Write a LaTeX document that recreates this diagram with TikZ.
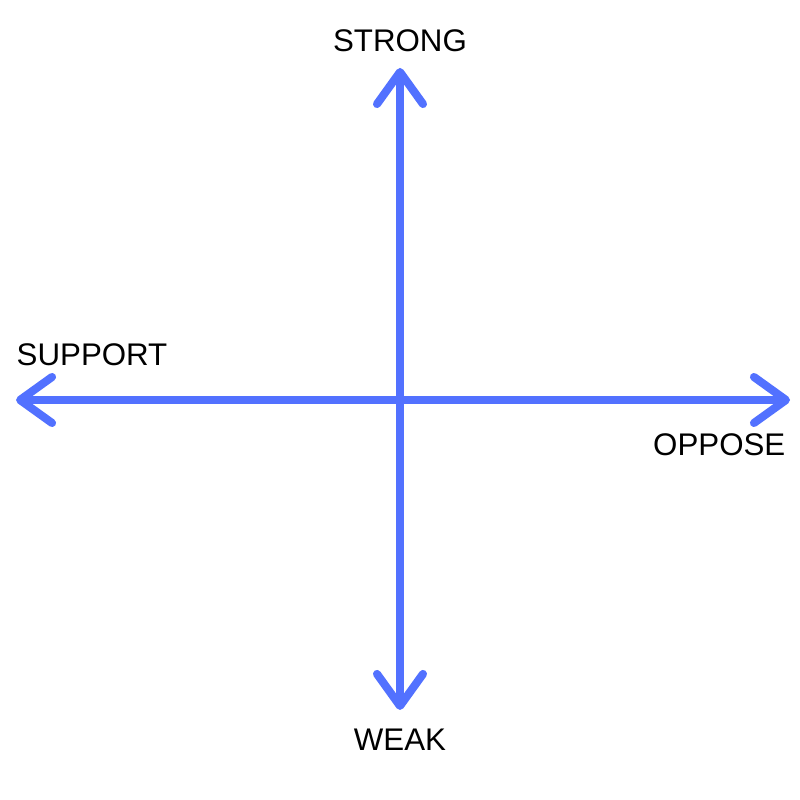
\documentclass[tikz,border=0pt]{standalone}
\usepackage{fontspec}
\setmainfont{Liberation Sans}
\usepackage{xcolor}
\usetikzlibrary{arrows.meta}
\definecolor{axisblue}{HTML}{5271FF}

\begin{document}
\begin{tikzpicture}[
  axis/.style={draw=axisblue,line width=2.3pt,line cap=round,
    {Straight Barb[length=3.2mm,width=4.6mm,round]}-{Straight Barb[length=3.2mm,width=4.6mm,round]}},
  lbl/.style={inner sep=0pt,font=\fontsize{8.9pt}{10pt}\selectfont}]
\useasboundingbox[fill=white] (0,0) rectangle (8,8);
\coordinate (top) at (4,7.32);
\coordinate (bottom) at (4,0.90);
\coordinate (left) at (0.16,4);
\coordinate (right) at (7.90,4);
\draw[axis] (bottom)--(top);
\draw[axis] (left)--(right);
\node[lbl,anchor=base] (strong) at (4,7.48) {STRONG};
\node[lbl,anchor=base] (weak) at (4,0.50) {WEAK};
\node[lbl,anchor=base west] (support) at (0.16,4.34) {SUPPORT};
\node[lbl,anchor=base east] (oppose) at (7.86,3.44) {OPPOSE};
\end{tikzpicture}
\end{document}
